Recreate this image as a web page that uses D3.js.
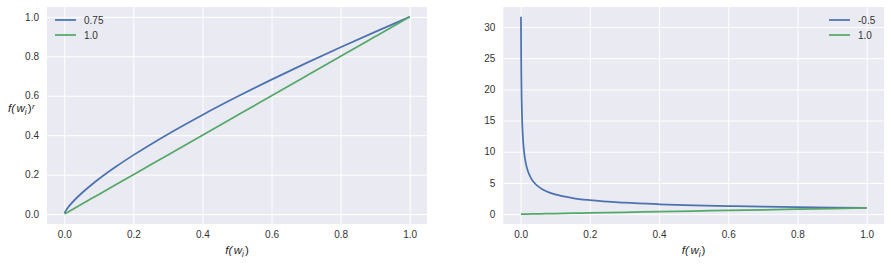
<!DOCTYPE html>
<html><head><meta charset="utf-8">
<script src="https://cdn.jsdelivr.net/npm/d3@7"></script>
<style>body{margin:0;background:#fff}svg{display:block}text{font-family:"Liberation Sans",Arial,sans-serif}</style>
</head><body><svg id="c" width="891" height="266"></svg>
<script>
// Left panel samples (f(w_i), f(w_i)^0.75)
const xLeft = [0.001,0.005,0.01,0.02,0.04,0.06,0.08,0.1,0.15,0.2,0.25,0.3,0.4,0.5,0.6,0.7,0.8,0.9,1.0];
const yLeft075 = [0.0056,0.0188,0.0316,0.0532,0.0894,0.1212,0.1504,0.1778,0.2410,0.2991,0.3536,0.4054,0.5030,0.5946,0.6817,0.7653,0.8459,0.9240,1.0];
const yLeft10 = [0.001,0.005,0.01,0.02,0.04,0.06,0.08,0.1,0.15,0.2,0.25,0.3,0.4,0.5,0.6,0.7,0.8,0.9,1.0];
// Right panel samples
const xRight = [0.001,0.0015,0.002,0.003,0.004,0.005,0.007,0.01,0.015,0.02,0.03,0.04,0.06,0.08,0.1,0.15,0.2,0.3,0.4,0.5,0.6,0.7,0.8,0.9,1.0];
const yRightM05 = [31.62,25.82,22.36,18.26,15.81,14.14,11.95,10.0,8.165,7.071,5.774,5.0,4.082,3.536,3.162,2.582,2.236,1.826,1.581,1.414,1.291,1.195,1.118,1.054,1.0];
const yRight10 = [0.001,0.0015,0.002,0.003,0.004,0.005,0.007,0.01,0.015,0.02,0.03,0.04,0.06,0.08,0.1,0.15,0.2,0.3,0.4,0.5,0.6,0.7,0.8,0.9,1.0];
const xTicks = [0,0.2,0.4,0.6,0.8,1.0];
const yTicksLeft = [0,0.2,0.4,0.6,0.8,1.0];
const yTicksRight = [0,5,10,15,20,25,30];
const legendLeft = ["0.75","1.0"];
const legendRight = ["-0.5","1.0"];
const colors = ["#4C72B0","#55A868"];

const svg = d3.select("#c");

function mathLabel(t, sup){
  t.append("tspan").text("f(");
  t.append("tspan").attr("dx",1.5).text("w");
  t.append("tspan").attr("dy",2.5).style("font-size","8.5px").text("i");
  t.append("tspan").attr("dy",-2.5).attr("dx",1).style("font-style","normal").text(")");
  if (sup) t.append("tspan").attr("dy",-3.5).attr("dx",0.5).style("font-size","8px").text("r");
}

function panel(opt){
  const g = svg.append("g");
  const x = d3.scaleLinear().domain([-0.05,1.05]).range([opt.left, opt.right]);
  const y = d3.scaleLinear().domain(opt.ydom).range([224, 7]);
  g.append("rect").attr("x",opt.left).attr("y",7).attr("width",opt.right-opt.left).attr("height",217).attr("fill","#EAEAF2");
  const gx = g.append("g").attr("transform","translate(0,224)")
    .call(d3.axisBottom(x).tickValues(xTicks).tickFormat(d3.format(".1f")).tickSize(-217).tickPadding(7));
  const gy = g.append("g").attr("transform",`translate(${opt.left},0)`)
    .call(d3.axisLeft(y).tickValues(opt.yticks).tickFormat(opt.yfmt).tickSize(-(opt.right-opt.left)).tickPadding(8));
  [gx,gy].forEach(a=>{
    a.select(".domain").remove();
    a.selectAll(".tick line").attr("stroke","#fff").attr("stroke-width",1);
    a.selectAll(".tick text").attr("fill","#333").style("font-size","10px");
  });
  const line = d3.line().x(d=>x(d[0])).y(d=>y(d[1])).curve(d3.curveMonotoneX);
  opt.series.forEach((s,i)=>{
    g.append("path").datum(opt.xs.map((v,j)=>[v,s[j]])).attr("d",line)
      .attr("fill","none").attr("stroke",colors[i]).attr("stroke-width",1.75);
  });
  opt.legend.forEach((lab,i)=>{
    const ly = 20 + i*15;
    g.append("line").attr("x1",opt.lx).attr("x2",opt.lx+21).attr("y1",ly).attr("y2",ly)
      .attr("stroke",colors[i]).attr("stroke-width",1.75);
    g.append("text").attr("x",opt.lx+29).attr("y",ly+3.5).attr("fill","#333").style("font-size","10px").text(lab);
  });
  const xl = g.append("text").attr("x",(opt.left+opt.right)/2).attr("y",254).attr("text-anchor","middle")
    .attr("fill","#262626").style("font-size","11.5px").style("font-style","italic");
  mathLabel(xl, false);
  return {x,y};
}

panel({left:47,right:427,ydom:[-0.05,1.05],yticks:yTicksLeft,yfmt:d3.format(".1f"),
  xs:xLeft,series:[yLeft075,yLeft10],legend:legendLeft,lx:55});
panel({left:503.3,right:884,ydom:[-1.581,33.2],yticks:yTicksRight,yfmt:d3.format("d"),
  xs:xRight,series:[yRightM05,yRight10],legend:legendRight,lx:829});

const yl = svg.append("text").attr("x",8).attr("y",112).attr("fill","#262626")
  .style("font-size","11.5px").style("font-style","italic");
mathLabel(yl, true);
</script></body></html>
